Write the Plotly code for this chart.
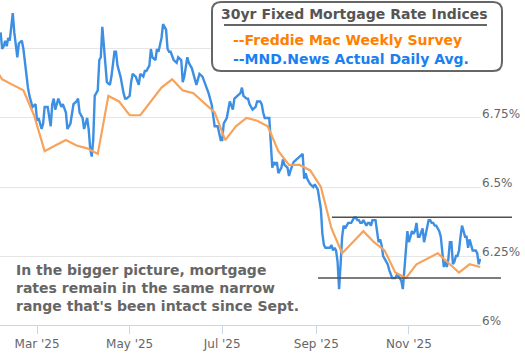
import plotly.graph_objects as go
import pandas as pd

# ---------------- data ----------------
# Freddie Mac weekly survey (30yr fixed)
freddie_dates = [
    "2025-01-30", "2025-02-06", "2025-02-13", "2025-02-20", "2025-02-27",
    "2025-03-06", "2025-03-13", "2025-03-20", "2025-03-27", "2025-04-03",
    "2025-04-10", "2025-04-17", "2025-04-24", "2025-05-01", "2025-05-08",
    "2025-05-15", "2025-05-22", "2025-05-29", "2025-06-05", "2025-06-12",
    "2025-06-18", "2025-06-26", "2025-07-03", "2025-07-10", "2025-07-17",
    "2025-07-24", "2025-07-31", "2025-08-07", "2025-08-14", "2025-08-21",
    "2025-08-28", "2025-09-04", "2025-09-11", "2025-09-18", "2025-09-25",
    "2025-10-02", "2025-10-09", "2025-10-16", "2025-10-23", "2025-10-30",
    "2025-11-06", "2025-11-13", "2025-11-20", "2025-11-26", "2025-12-04",
    "2025-12-11", "2025-12-18",
]
freddie_rates = [
    6.95, 6.89, 6.87, 6.85, 6.76,
    6.63, 6.65, 6.67, 6.65, 6.64,
    6.62, 6.83, 6.81, 6.76, 6.76,
    6.81, 6.86, 6.89, 6.85, 6.84,
    6.81, 6.77, 6.67, 6.72, 6.75,
    6.74, 6.72, 6.63, 6.58, 6.58,
    6.56, 6.50, 6.35, 6.26, 6.30,
    6.34, 6.30, 6.27, 6.19, 6.17,
    6.22, 6.24, 6.26, 6.23, 6.19,
    6.22, 6.21,
]

# MND daily index, Feb - early Sep (readings)
mnd_dates_early = (
    ["2025-02-%02d" % d for d in [5, 6, 7, 8, 9, 10, 11, 13, 14, 16, 17, 19, 20, 22, 23, 24, 26, 28]]
    + ["2025-03-%02d" % d for d in [1, 2, 4, 5, 6, 8, 10, 11, 12, 13, 15, 17, 18, 20, 21, 23, 25, 27, 28, 29, 31]]
    + ["2025-04-%02d" % d for d in [1, 3, 4, 5, 6, 7, 8, 10, 11, 12, 13, 14, 15, 16, 18, 19, 21, 22, 23, 25, 27, 28, 29]]
    + ["2025-05-%02d" % d for d in [1, 2, 3, 5, 7, 8, 10, 11, 12, 14, 15, 16, 18, 19, 20, 22, 23, 25, 26, 27, 28, 30]]
    + ["2025-06-%02d" % d for d in [1, 2, 4, 5, 6, 8, 9, 11, 12, 14, 16, 18, 20, 22, 24, 26, 28, 29, 30]]
    + ["2025-07-%02d" % d for d in [1, 2, 4, 6, 8, 9, 11, 13, 14, 15, 17, 18, 19, 21, 23, 24, 26, 27, 28, 29, 31]]
    + ["2025-08-%02d" % d for d in [1, 3, 4, 5, 6, 7, 9, 10, 11, 13, 14, 15, 16, 17, 19, 21, 23, 24, 25, 26, 28, 30, 31]]
    + ["2025-09-02"]
)
mnd_rates_early = [
    # Feb
    7.06, 7.00, 7.01, 7.03, 7.01, 7.04, 7.03, 7.13, 7.06, 6.97, 7.02, 7.03, 7.00, 6.89, 6.86, 6.83, 6.79, 6.80,
    # Mar
    6.74, 6.75, 6.71, 6.73, 6.79, 6.79, 6.72, 6.80, 6.82, 6.78, 6.82, 6.79, 6.80, 6.77, 6.71, 6.73, 6.80, 6.81, 6.82, 6.77, 6.75,
    # Apr
    6.71, 6.75, 6.71, 6.64, 6.61, 6.67, 6.83, 6.85, 6.96, 6.97, 7.08, 7.02, 6.94, 6.88, 6.87, 6.90, 6.99, 6.99, 6.94, 6.90, 6.84, 6.82, 6.82,
    # May
    6.83, 6.88, 6.91, 6.90, 6.87, 6.91, 6.90, 6.92, 6.92, 6.94, 7.00, 6.97, 6.96, 7.00, 6.99, 7.04, 7.09, 7.07, 7.00, 6.99, 6.99, 6.96,
    # Jun
    6.95, 6.97, 6.96, 6.88, 6.90, 6.97, 6.95, 6.93, 6.91, 6.87, 6.91, 6.90, 6.87, 6.84, 6.80, 6.72, 6.72, 6.69, 6.67,
    # Jul
    6.67, 6.73, 6.75, 6.81, 6.78, 6.82, 6.83, 6.84, 6.86, 6.83, 6.82, 6.82, 6.80, 6.78, 6.79, 6.81, 6.81, 6.80, 6.77, 6.75, 6.75,
    # Aug
    6.75, 6.57, 6.59, 6.58, 6.59, 6.55, 6.57, 6.60, 6.58, 6.57, 6.54, 6.56, 6.58, 6.59, 6.60, 6.61, 6.62, 6.53, 6.55, 6.53, 6.51, 6.50, 6.51,
    # Sep 2
    6.49,
]

# MND daily index, Sep 3 - Dec 18 (one reading per day)
mnd_dates_late = [d.strftime("%Y-%m-%d") for d in pd.date_range("2025-09-03", "2025-12-18", freq="D")]
mnd_rates_late = [
    # Sep 3-30
    6.45, 6.42, 6.33, 6.29, 6.28, 6.28, 6.28, 6.28, 6.29, 6.27, 6.28, 6.27, 6.23, 6.13,
    6.22, 6.32, 6.36, 6.35, 6.36, 6.37, 6.37, 6.37, 6.38, 6.39, 6.39, 6.38, 6.38, 6.37,
    # Oct
    6.37, 6.38, 6.37, 6.36, 6.37, 6.37, 6.36, 6.38, 6.38, 6.38, 6.34, 6.30, 6.31, 6.29, 6.25, 6.24,
    6.23, 6.22, 6.20, 6.18, 6.17, 6.17, 6.17, 6.18, 6.18, 6.17, 6.16, 6.13, 6.20, 6.29, 6.34,
    # Nov
    6.30, 6.32, 6.34, 6.33, 6.34, 6.37, 6.32, 6.32, 6.34, 6.35, 6.30, 6.33, 6.35, 6.38, 6.38,
    6.37, 6.37, 6.36, 6.36, 6.35, 6.34, 6.32, 6.27, 6.21, 6.23, 6.21, 6.24, 6.30, 6.30, 6.22,
    # Dec 1-18
    6.23, 6.25, 6.25, 6.27, 6.32, 6.36, 6.34, 6.32, 6.32, 6.28, 6.31, 6.29, 6.27, 6.27, 6.27, 6.26, 6.22, 6.24,
]

mnd_dates = mnd_dates_early + mnd_dates_late
mnd_rates = mnd_rates_early + mnd_rates_late

# narrow range since September (upper / lower)
range_levels = [6.39, 6.17]

# axis ticks
x_tick_dates = ["2025-03-01", "2025-05-01", "2025-07-01", "2025-09-01", "2025-11-01"]
x_tick_labels = ["Mar '25", "May '25", "Jul '25", "Sep '25", "Nov '25"]
y_tick_vals = [6.0, 6.25, 6.5, 6.75, 7.0]
y_tick_labels = ["6%", "6.25%", "6.5%", "6.75%", "7%"]

title_text = "30yr Fixed Mortgage Rate Indices"
legend_freddie = "--Freddie Mac Weekly Survey"
legend_mnd = "--MND.News Actual Daily Avg."
note_lines = [
    "In the bigger picture, mortgage",
    "rates remain in the same narrow",
    "range that's been intact since Sept.",
]

# ---------------- layout helpers ----------------
W, H = 525, 358
ML, MR, MT, MB = 0, 44, 0, 33
PW, PH = W - ML - MR, H - MT - MB
FONT = "DejaVu Sans"


def px(xp):
    return (xp - ML) / PW


def py(yp):
    return (H - MB - yp) / PH


fig = go.Figure()
fig.add_trace(go.Scatter(
    x=mnd_dates, y=mnd_rates, mode="lines",
    line=dict(color="#3d8fe3", width=2.4), hoverinfo="skip",
))
fig.add_trace(go.Scatter(
    x=freddie_dates, y=freddie_rates, mode="lines",
    line=dict(color="#f7a35c", width=2.2), hoverinfo="skip",
))

shapes = []
# range lines
spans = [(332, 512), (318, 501)]
for lv, (a, b) in zip(range_levels, spans):
    shapes.append(dict(type="line", xref="paper", yref="y", x0=px(a), x1=px(b),
                       y0=lv, y1=lv, line=dict(color="#505050", width=1.5), layer="above"))

# rounded title box
x0, x1, yT, yB = px(212), px(502), py(2), py(71)
rx, ry = 9 / PW, 9 / PH
path = (f"M {x0+rx},{yT} L {x1-rx},{yT} Q {x1},{yT} {x1},{yT-ry} L {x1},{yB+ry} "
        f"Q {x1},{yB} {x1-rx},{yB} L {x0+rx},{yB} Q {x0},{yB} {x0},{yB+ry} "
        f"L {x0},{yT-ry} Q {x0},{yT} {x0+rx},{yT} Z")
shapes.append(dict(type="path", xref="paper", yref="paper", path=path,
                   fillcolor="white", line=dict(color="#666666", width=2), layer="above"))
# underline of title
shapes.append(dict(type="line", xref="paper", yref="paper", x0=px(224), x1=px(487),
                   y0=py(25), y1=py(25), line=dict(color="#666666", width=2), layer="above"))

annotations = [
    dict(text=f"<b>{title_text}</b>", x=px(219), y=py(14), xref="paper", yref="paper",
         xanchor="left", yanchor="middle", showarrow=False,
         font=dict(family=FONT, size=14, color="#555555")),
    dict(text=f"<b>{legend_freddie}</b>", x=px(231), y=py(40), xref="paper", yref="paper",
         xanchor="left", yanchor="middle", showarrow=False,
         font=dict(family=FONT, size=14, color="#ff8000")),
    dict(text=f"<b>{legend_mnd}</b>", x=px(231), y=py(59), xref="paper", yref="paper",
         xanchor="left", yanchor="middle", showarrow=False,
         font=dict(family=FONT, size=14, color="#1a7ff0")),
    dict(text="<b>" + "<br>".join(note_lines) + "</b>", x=px(14), y=py(287.5),
         xref="paper", yref="paper", xanchor="left", yanchor="middle", align="left",
         showarrow=False, font=dict(family=FONT, size=14, color="#666666")),
]

fig.update_layout(
    width=W, height=H,
    margin=dict(l=ML, r=MR, t=MT, b=MB, pad=0, autoexpand=False),
    paper_bgcolor="white", plot_bgcolor="white",
    showlegend=False, hovermode=False,
    shapes=shapes, annotations=annotations,
    font=dict(family=FONT, size=12, color="#666666"),
    xaxis=dict(
        type="date", range=["2025-02-04 14:00", "2025-12-18 12:00"],
        tickvals=x_tick_dates, ticktext=x_tick_labels,
        ticks="outside", ticklen=8, tickcolor="#ccd6eb", tickwidth=1,
        showline=True, linecolor="#ccd6eb", linewidth=1,
        showgrid=False, zeroline=False, automargin=False,
        tickfont=dict(family=FONT, size=12, color="#666666"),
    ),
    yaxis=dict(
        side="right", range=[6.0, 7.1775],
        tickvals=y_tick_vals, ticktext=y_tick_labels,
        showgrid=True, gridcolor="#e6e6e6", gridwidth=1,
        zeroline=False, ticks="", showline=False, automargin=False,
        ticklabelstandoff=0, ticklabelshift=-4,
        tickfont=dict(family=FONT, size=12, color="#666666"),
    ),
)

fig.write_html(
    "out.html",
    config={"displayModeBar": False},
    post_script="document.body.style.margin='0px';document.body.style.overflow='hidden';",
)
